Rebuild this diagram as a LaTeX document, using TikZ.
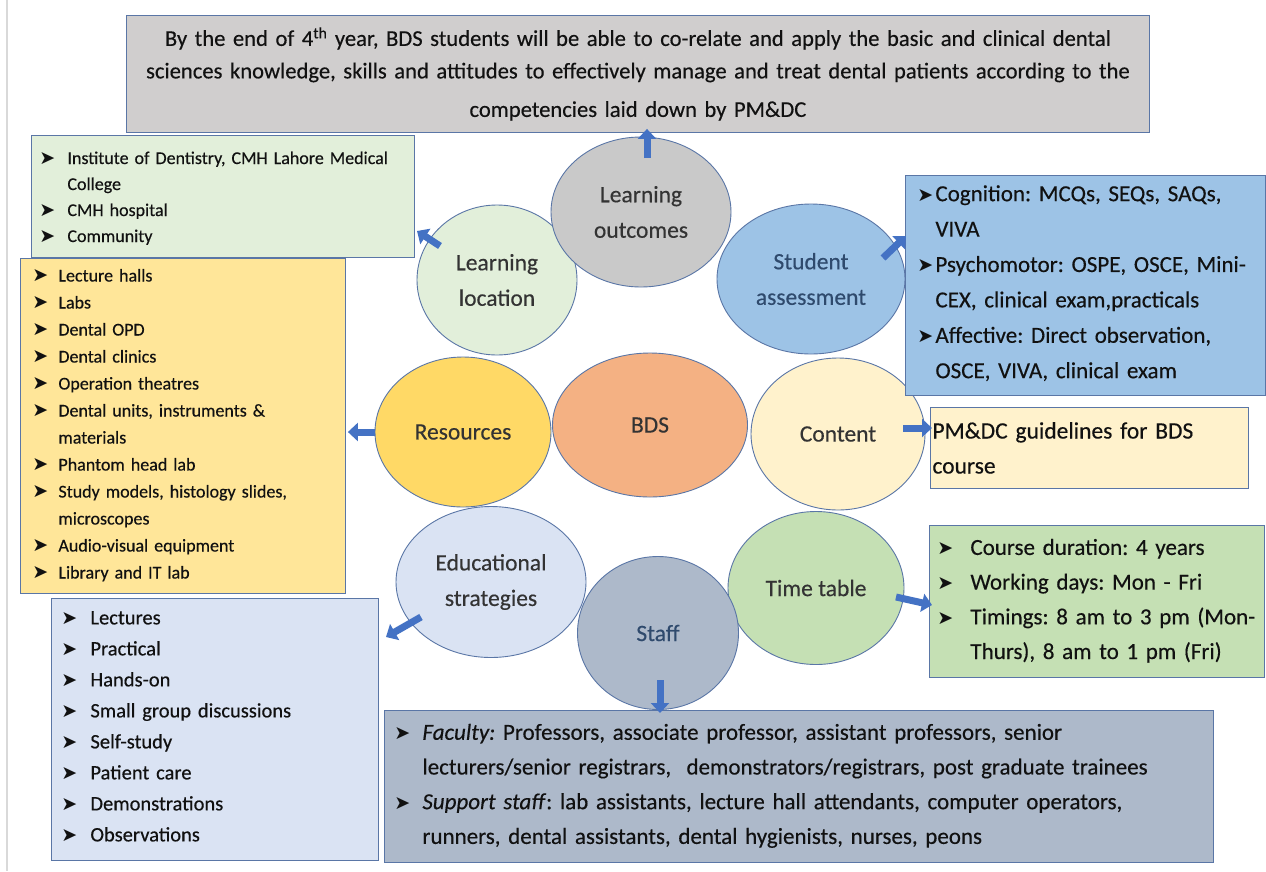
\documentclass[tikz,border=0pt]{standalone}
\usepackage{fontspec}
\usepackage{graphicx}
\setmainfont{Carlito}[FakeBold=0.35]
\newfontfamily\dvfont{DejaVu Sans}
\usetikzlibrary{shapes.geometric,arrows.meta}
\definecolor{bordc}{HTML}{5A76A6}
\definecolor{arrowc}{HTML}{4472C4}
\definecolor{topfill}{HTML}{D0CECE}
\definecolor{gfill}{HTML}{E2EFDA}
\definecolor{yfill}{HTML}{FFE699}
\definecolor{efill}{HTML}{DAE3F3}
\definecolor{sfill}{HTML}{ADB9CA}
\definecolor{afill}{HTML}{9DC3E6}
\definecolor{cfill}{HTML}{FFF2CC}
\definecolor{tfill}{HTML}{C5E0B4}
\definecolor{lofill}{HTML}{C9C9C9}
\definecolor{resfill}{HTML}{FFD966}
\definecolor{bdsfill}{HTML}{F4B183}
\definecolor{circtext}{HTML}{333333}
\definecolor{bluetext}{HTML}{2F4A6D}
\definecolor{boxtext}{HTML}{111111}
\newlength{\bind}
\newcommand{\bmark}{{\dvfont\fontsize{19}{19}\selectfont\symbol{"27A4}}}
\newcommand{\bitem}[1]{\par\hangindent=\bind\hangafter=1\noindent\makebox[\bind][l]{\bmark}#1}
\begin{document}
\frenchspacing
\begin{tikzpicture}[x=1pt,y=-1pt,
  box/.style={draw=bordc, line width=0.9pt, rectangle, anchor=north west, inner ysep=0pt, align=left, text=boxtext},
  circ/.style={ellipse, draw=bordc, line width=0.9pt, inner sep=0pt, align=center, text=circtext,
    font=\fontsize{23.5}{35.5}\selectfont},
  barrow/.style={draw=arrowc, line width=7pt, -{Triangle[length=10pt,width=18pt]}}]
\fill[white] (0,0) rectangle (1266,871);
\useasboundingbox (0,0) rectangle (1266,871);
\draw[black!15, line width=1.5pt] (7,0) -- (7,871);

% circles
\node[circ, fill=gfill, minimum width=160pt, minimum height=150pt] (ll) at (497,280) {Learning\\location};
\node[circ, fill=afill, minimum width=188pt, minimum height=150pt, text=bluetext] (sa) at (811,279) {Student\\assessment};
\node[circ, fill=lofill, minimum width=180pt, minimum height=150pt] (lo) at (641,212) {Learning\\outcomes};
\node[circ, fill=resfill, minimum width=176pt, minimum height=150pt] (res) at (463,432) {Resources};
\node[circ, fill=bdsfill, minimum width=195pt, minimum height=144pt] (bds) at (650,425) {BDS};
\node[circ, fill=cfill, minimum width=174pt, minimum height=152pt] (con) at (838,434) {Content};
\node[circ, fill=efill, minimum width=190pt, minimum height=151pt] (edu) at (491,582) {Educational\\strategies};
\node[circ, fill=tfill, minimum width=176pt, minimum height=153pt] (tt) at (816,588) {Time table};
\node[circ, fill=sfill, minimum width=161pt, minimum height=153pt, text=bluetext] (staff) at (658,633) {Staff};

% boxes
\node[box, fill=topfill, minimum height=117pt, inner xsep=10pt, text width=1003pt, align=center,
  font=\fontsize{22.6}{38.5}\selectfont] (topbox) at (126,15)
  {\vspace*{-6pt}By the end of 4\textsuperscript{th} year, BDS students will be able to co-relate and apply the basic and clinical dental\\
   sciences knowledge, skills and attitudes to effectively manage and treat dental patients according to the\\
   competencies laid down by PM\&DC\par};

\node[box, fill=yfill, minimum height=335pt, inner xsep=12pt, text width=301pt,
  font=\fontsize{18}{27}\selectfont] (ybox) at (20,258)
  {\setlength\bind{26pt}\vspace*{-16pt}%
   \bitem{Lecture halls}
   \bitem{Labs}
   \bitem{Dental OPD}
   \bitem{Dental clinics}
   \bitem{Operation theatres}
   \bitem{Dental units, instruments \&\newline materials}
   \bitem{Phantom head lab}
   \bitem{Study models, histology slides,\newline microscopes}
   \bitem{Audio-visual equipment}
   \bitem{Library and IT lab}\par};

\node[box, fill=gfill, minimum height=122pt, inner xsep=8pt, text width=367pt,
  font=\fontsize{18}{26}\selectfont] (gbox) at (31,135)
  {\setlength\bind{28pt}\vspace*{-10pt}%
   \bitem{Institute of Dentistry, CMH Lahore Medical\newline College}
   \bitem{CMH hospital}
   \bitem{Community}\par};

\node[box, fill=efill, minimum height=262pt, inner xsep=10pt, text width=307pt,
  font=\fontsize{20.5}{31}\selectfont] (ebox) at (51,598)
  {\setlength\bind{29pt}\vspace*{-24pt}%
   \bitem{Lectures}
   \bitem{Practical}
   \bitem{Hands-on}
   \bitem{Small group discussions}
   \bitem{Self-study}
   \bitem{Patient care}
   \bitem{Demonstrations}
   \bitem{Observations}\par};

\node[box, fill=sfill, minimum height=152pt, inner xsep=10pt, text width=809pt,
  font=\fontsize{23}{34.7}\selectfont] (sbox) at (384,710)
  {\setlength\bind{28pt}\vspace*{-20pt}%
   \bitem{\textit{Faculty:} Professors, associate professor, assistant professors, senior\newline
     lecturers/senior registrars,\ \ demonstrators/registrars, post graduate trainees}
   \bitem{\textit{Support staff}: lab assistants, lecture hall attendants, computer operators,\newline
     runners, dental assistants, dental hygienists, nurses, peons}\par};

\node[box, fill=afill, minimum height=220pt, inner xsep=12pt, text width=336pt,
  font=\fontsize{23}{35.4}\selectfont] (abox) at (905,175)
  {\setlength\bind{18pt}\vspace*{-24pt}%
   \bitem{Cognition: MCQs, SEQs, SAQs,\newline VIVA}
   \bitem{Psychomotor: OSPE, OSCE, Mini-\newline CEX, clinical exam,practicals}
   \bitem{Affective: Direct observation,\newline OSCE, VIVA, clinical exam}\par};

\node[box, fill=cfill, minimum height=81pt, inner xsep=2pt, text width=314pt,
  font=\fontsize{23.5}{35}\selectfont] (cbox) at (930,407)
  {PM\&DC guidelines for BDS\newline course\par};

\node[box, fill=tfill, minimum height=152pt, inner xsep=8pt, text width=319pt,
  font=\fontsize{23}{34.7}\selectfont] (tbox) at (929,525)
  {\setlength\bind{33pt}\vspace*{-20pt}%
   \bitem{Course duration: 4 years}
   \bitem{Working days: Mon - Fri}
   \bitem{Timings: 8 am to 3 pm (Mon-\newline Thurs), 8 am to 1 pm (Fri)}\par};

% arrows
\coordinate (aLO) at (647,158);
\coordinate (aLL1) at (440,246);  \coordinate (aLL2) at (417,231);
\coordinate (aSA1) at (883,258);  \coordinate (aSA2) at (906,236);
\coordinate (aCo1) at (903,428);  \coordinate (aCo2) at (932,428);
\coordinate (aTT1) at (896,597);  \coordinate (aTT2) at (932,605);
\coordinate (aEd1) at (421,617);  \coordinate (aEd2) at (386,637);
\coordinate (aSt) at (660,680);
\draw[barrow] (aLO) -- ([yshift=4pt]aLO |- topbox.south);
\draw[barrow] (aLL1) -- (aLL2);
\draw[barrow] (aSA1) -- (aSA2);
\draw[barrow] (res.west) -- ([xshift=2pt]res.west -| ybox.east);
\draw[barrow] (aCo1) -- (aCo2);
\draw[barrow] (aTT1) -- (aTT2);
\draw[barrow] (aEd1) -- (aEd2);
\draw[barrow] (aSt) -- ([yshift=-3pt]aSt |- sbox.north);
\end{tikzpicture}
\end{document}
